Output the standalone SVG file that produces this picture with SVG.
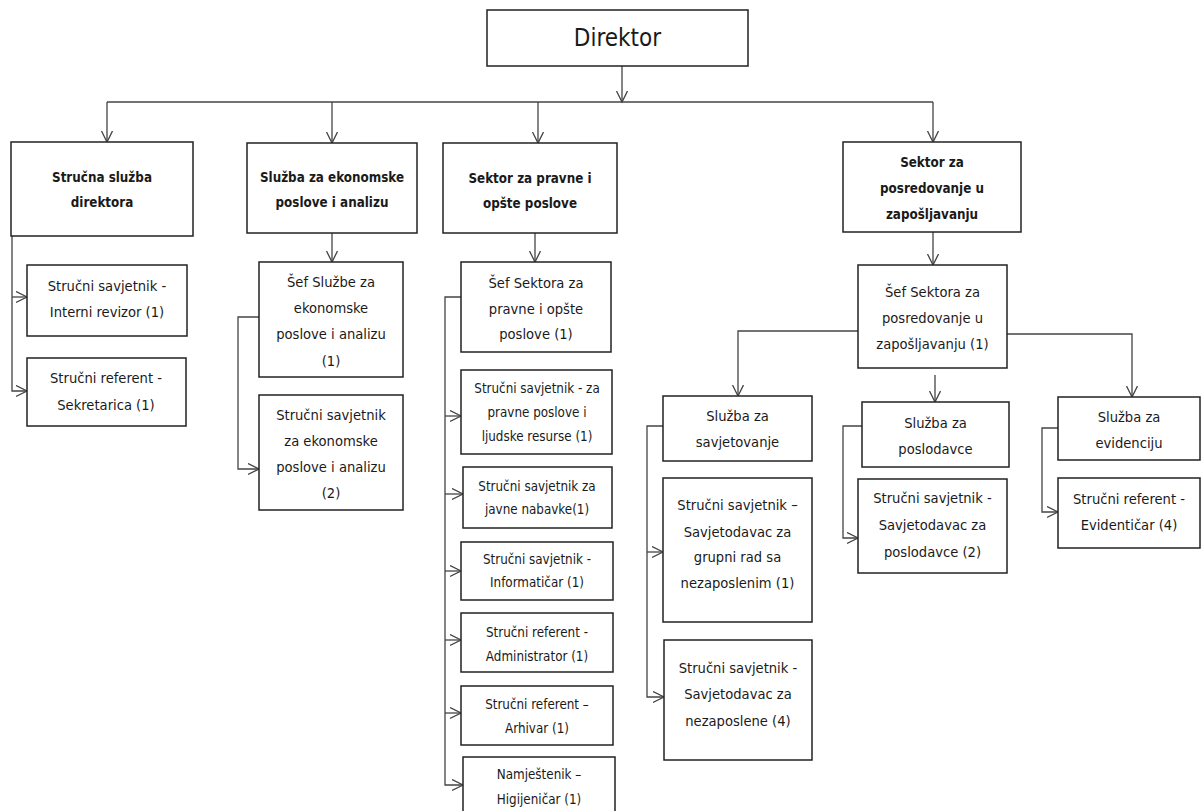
<svg xmlns="http://www.w3.org/2000/svg" width="1203" height="811" viewBox="0 0 1203 811">
<defs>
<marker id="arr" markerUnits="userSpaceOnUse" markerWidth="14" markerHeight="14" refX="11" refY="6" orient="auto">
<path d="M0,0.5 L11,6 L0,11.5" fill="none" stroke="#444" stroke-width="1.3"/>
</marker>
<style>
.n rect{fill:#fff;stroke:#222;stroke-width:1.5}
text{font-family:"Liberation Sans Narrow","DejaVu Sans Condensed","Liberation Sans",sans-serif;font-stretch:condensed;fill:#1a1a1a;text-anchor:middle;font-size:14.6px}
.h{font-weight:bold;font-size:13.3px}
.s{font-size:13.3px}
.d{font-size:24px}
.c path{fill:none;stroke:#444;stroke-width:1.3}
</style>
</defs>
<g class="c" id="connectors">
<path d="M622,66 V102" marker-end="url(#arr)"/>
<path d="M107,102 H933"/>
<path d="M107,102 V142" marker-end="url(#arr)"/>
<path d="M332,102 V143" marker-end="url(#arr)"/>
<path d="M538,102 V143" marker-end="url(#arr)"/>
<path d="M933,102 V142" marker-end="url(#arr)"/>
<path d="M12,236 V391 H27" marker-end="url(#arr)"/>
<path d="M12,297 H27" marker-end="url(#arr)"/>
<path d="M332,233 V262" marker-end="url(#arr)"/>
<path d="M259,317 H238 V469 H259" marker-end="url(#arr)"/>
<path d="M535,233 V262" marker-end="url(#arr)"/>
<path d="M461,297 H445 V785 H463" marker-end="url(#arr)"/>
<path d="M445,416 H461" marker-end="url(#arr)"/>
<path d="M445,494 H463" marker-end="url(#arr)"/>
<path d="M445,571 H461" marker-end="url(#arr)"/>
<path d="M445,640 H461" marker-end="url(#arr)"/>
<path d="M445,713 H461" marker-end="url(#arr)"/>
<path d="M933,232 V265" marker-end="url(#arr)"/>
<path d="M858,331 H738 V396" marker-end="url(#arr)"/>
<path d="M1007,334 H1132 V397" marker-end="url(#arr)"/>
<path d="M935,375 V402" marker-end="url(#arr)"/>
<path d="M663,426 H647 V697 H664" marker-end="url(#arr)"/>
<path d="M647,552 H663" marker-end="url(#arr)"/>
<path d="M862,426 H843 V538 H858" marker-end="url(#arr)"/>
<path d="M1058,428 H1042 V512 H1058" marker-end="url(#arr)"/>
</g>
<g class="n">
<g id="direktor"><rect x="487" y="10" width="261" height="56"/><text class="d" x="617.5" y="46">Direktor</text></g>
<g id="strucna-sluzba"><rect x="11" y="142" width="182" height="94"/><text class="h" x="102" y="182">Stručna služba</text><text class="h" x="102" y="207">direktora</text></g>
<g id="sluzba-ekonomske"><rect x="247" y="143" width="170" height="90"/><text class="h" x="332" y="182">Služba za ekonomske</text><text class="h" x="332" y="207">poslove i analizu</text></g>
<g id="sektor-pravne"><rect x="443" y="143" width="174" height="90"/><text class="h" x="530" y="183">Sektor za pravne i</text><text class="h" x="530" y="208">opšte poslove</text></g>
<g id="sektor-posredovanje"><rect x="843" y="142" width="178" height="90"/><text class="h" x="932" y="167">Sektor za</text><text class="h" x="932" y="193">posredovanje u</text><text class="h" x="932" y="219">zapošljavanju</text></g>
<g id="interni-revizor"><rect x="27" y="265" width="160" height="71"/><text x="107" y="291">Stručni savjetnik -</text><text x="107" y="317">Interni revizor (1)</text></g>
<g id="sekretarica"><rect x="27" y="358" width="159" height="68"/><text x="106" y="383">Stručni referent -</text><text x="106" y="410">Sekretarica (1)</text></g>
<g id="sef-sluzbe-ekonomske"><rect x="259" y="262" width="144" height="115"/><text x="331" y="287">Šef Službe za</text><text x="331" y="313">ekonomske</text><text x="331" y="339">poslove i analizu</text><text x="331" y="366">(1)</text></g>
<g id="savjetnik-ekonomske"><rect x="259" y="395" width="144" height="115"/><text x="331" y="420">Stručni savjetnik</text><text x="331" y="446">za ekonomske</text><text x="331" y="472">poslove i analizu</text><text x="331" y="498">(2)</text></g>
<g id="sef-sektora-pravne"><rect x="461" y="262" width="150" height="90"/><text x="536" y="288">Šef Sektora za</text><text x="536" y="314">pravne i opšte</text><text x="536" y="339">poslove (1)</text></g>
<g id="savjetnik-pravne"><rect x="461" y="370" width="151" height="84"/><text class="s" x="537" y="393">Stručni savjetnik - za</text><text class="s" x="537" y="417">pravne poslove i</text><text class="s" x="537" y="441">ljudske resurse (1)</text></g>
<g id="savjetnik-nabavke"><rect x="463" y="467" width="149" height="61"/><text class="s" x="537" y="491">Stručni savjetnik za</text><text class="s" x="537" y="514">javne nabavke(1)</text></g>
<g id="informaticar"><rect x="461" y="542" width="152" height="58"/><text class="s" x="537" y="564">Stručni savjetnik -</text><text class="s" x="537" y="587">Informatičar (1)</text></g>
<g id="administrator"><rect x="461" y="613" width="152" height="59"/><text class="s" x="537" y="637">Stručni referent -</text><text class="s" x="537" y="661">Administrator (1)</text></g>
<g id="arhivar"><rect x="461" y="686" width="152" height="59"/><text class="s" x="537" y="709">Stručni referent –</text><text class="s" x="537" y="733">Arhivar (1)</text></g>
<g id="higijenicar"><rect x="463" y="757" width="152" height="64"/><text class="s" x="539" y="779">Namještenik –</text><text class="s" x="539" y="804">Higijeničar (1)</text></g>
<g id="sef-sektora-posredovanje"><rect x="858" y="265" width="149" height="103"/><text x="932.5" y="297">Šef Sektora za</text><text x="932.5" y="323">posredovanje u</text><text x="932.5" y="349">zapošljavanju (1)</text></g>
<g id="sluzba-savjetovanje"><rect x="663" y="396" width="149" height="65"/><text x="737.5" y="421">Služba za</text><text x="737.5" y="447">savjetovanje</text></g>
<g id="sluzba-poslodavce"><rect x="862" y="402" width="147" height="65"/><text x="935.5" y="428">Služba za</text><text x="935.5" y="454">poslodavce</text></g>
<g id="sluzba-evidenciju"><rect x="1058" y="397" width="142" height="63"/><text x="1129" y="422">Služba za</text><text x="1129" y="448">evidenciju</text></g>
<g id="savjetodavac-grupni"><rect x="663" y="478" width="149" height="144"/><text x="737.5" y="510">Stručni savjetnik –</text><text x="737.5" y="537">Savjetodavac za</text><text x="737.5" y="562">grupni rad sa</text><text x="737.5" y="588">nezaposlenim (1)</text></g>
<g id="savjetodavac-nezaposlene"><rect x="664" y="640" width="148" height="120"/><text x="738" y="673">Stručni savjetnik -</text><text x="738" y="699">Savjetodavac za</text><text x="738" y="726">nezaposlene (4)</text></g>
<g id="savjetodavac-poslodavce"><rect x="858" y="479" width="149" height="94"/><text x="932.5" y="503">Stručni savjetnik -</text><text x="932.5" y="530">Savjetodavac za</text><text x="932.5" y="557">poslodavce (2)</text></g>
<g id="evidenticar"><rect x="1058" y="478" width="142" height="70"/><text x="1129" y="504">Stručni referent -</text><text x="1129" y="530">Evidentičar (4)</text></g>
</g>
</svg>
